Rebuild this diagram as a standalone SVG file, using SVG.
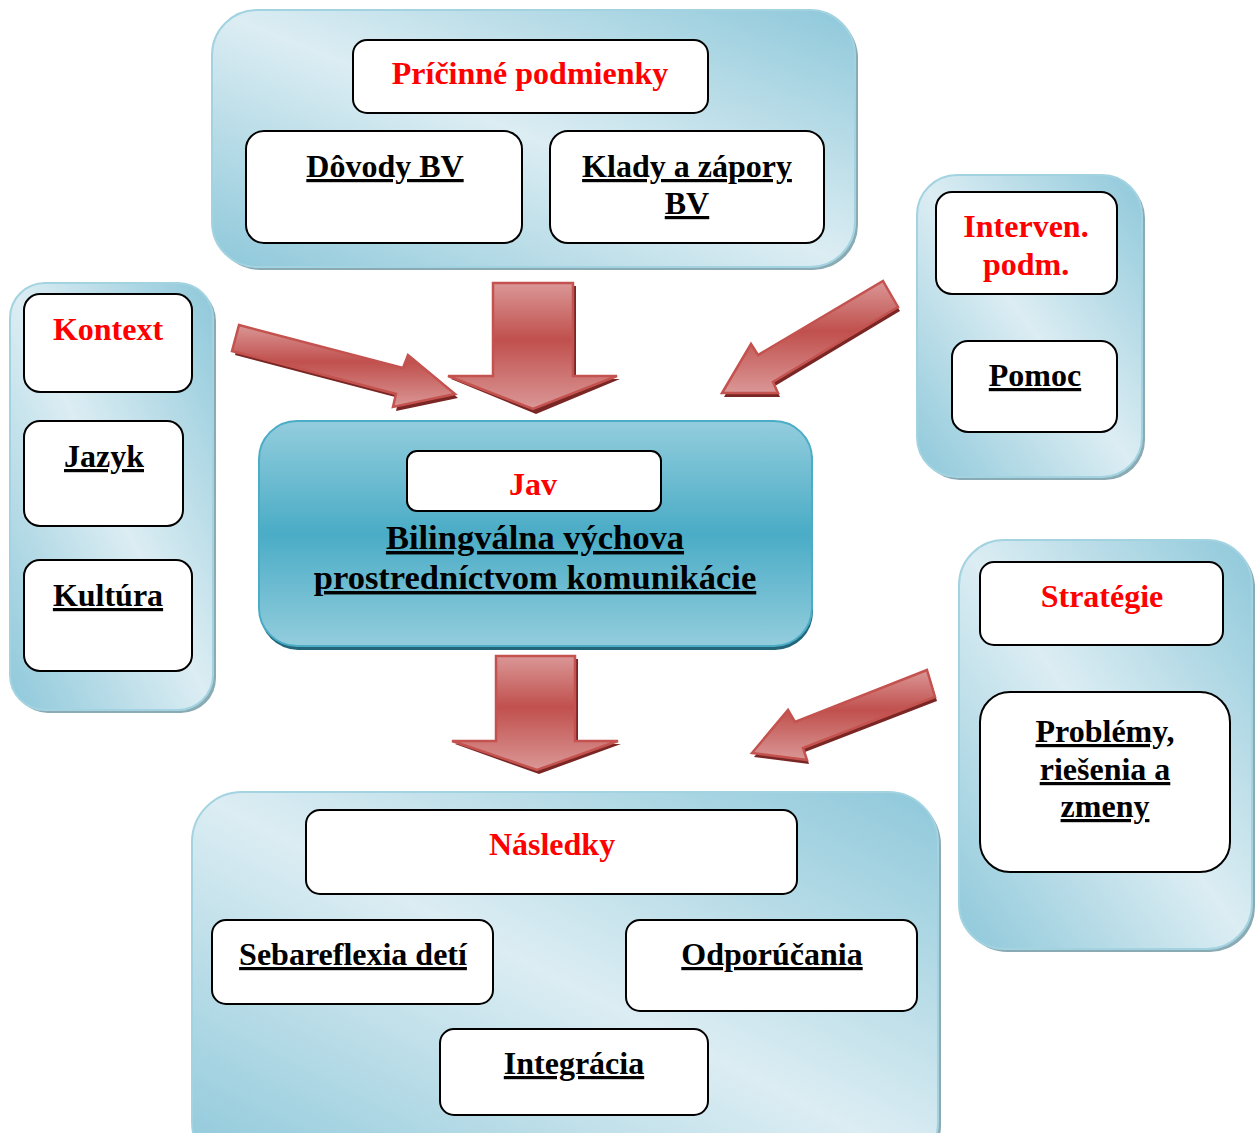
<svg xmlns="http://www.w3.org/2000/svg" width="1259" height="1133" viewBox="0 0 1259 1133">
<defs>
<linearGradient id="gPanel" x1="0" y1="1" x2="1" y2="0">
<stop offset="0" stop-color="#8ec8da"/>
<stop offset="0.5" stop-color="#dcedf3"/>
<stop offset="1" stop-color="#8ec8da"/>
</linearGradient>
<linearGradient id="gCenter" x1="0" y1="0" x2="0" y2="1">
<stop offset="0" stop-color="#93cddd"/>
<stop offset="0.5" stop-color="#4aacc6"/>
<stop offset="1" stop-color="#93cddd"/>
</linearGradient>
<linearGradient id="gArrow" x1="0" y1="0" x2="0" y2="1">
<stop offset="0" stop-color="#da9796"/>
<stop offset="0.45" stop-color="#c0504d"/>
<stop offset="1" stop-color="#da9796"/>
</linearGradient>
<style>
.panel{fill:url(#gPanel);stroke:#a3d3e0;stroke-width:2}
.pshadow{fill:#8aaab4}
.box{fill:#fff;stroke:#000;stroke-width:2}
.arrow{fill:url(#gArrow);stroke:#c4524f;stroke-width:2.5;stroke-linejoin:miter}
.ashadow{fill:#7a2624}
text{font-family:"Liberation Serif","Times New Roman",serif;font-weight:bold;font-size:32px;text-anchor:middle}
.red{fill:#ff0000}
.u{fill:#000;text-decoration:underline;text-decoration-thickness:3px}
.big{font-size:34.5px}
</style>
</defs>

<!-- Panels -->
<g id="panel-pricinne">
<rect class="pshadow" x="215" y="13" width="643" height="257" rx="45"/>
<rect class="panel" x="212" y="10" width="643" height="257" rx="45"/>
</g>
<g id="panel-kontext">
<rect class="pshadow" x="13" y="286" width="203" height="427" rx="35"/>
<rect class="panel" x="10" y="283" width="203" height="427" rx="35"/>
</g>
<g id="panel-interven">
<rect class="pshadow" x="920" y="178" width="225" height="302" rx="40"/>
<rect class="panel" x="917" y="175" width="225" height="302" rx="40"/>
</g>
<g id="panel-strategie">
<rect class="pshadow" x="962" y="543" width="293" height="409" rx="45"/>
<rect class="panel" x="959" y="540" width="293" height="409" rx="45"/>
</g>
<g id="panel-nasledky">
<rect class="pshadow" x="195" y="795" width="746" height="380" rx="50"/>
<rect class="panel" x="192" y="792" width="746" height="380" rx="50"/>
</g>
<g id="panel-jav">
<rect x="260" y="425" width="553" height="225" rx="38" fill="#23667a"/>
<rect x="259" y="421" width="553" height="225" rx="38" fill="url(#gCenter)" stroke="#4aacc6" stroke-width="2"/>
</g>

<!-- Connectors (block arrows) -->
<g id="connectors">
<g id="arrow-top">
<polygon class="ashadow" points="496,286 576,286 576,379 620,379 536,414 451,379 496,379"/>
<polygon class="arrow" points="493,283 573,283 573,376 617,376 533,409 448,376 493,376"/>
</g>
<g id="arrow-left">
<polygon class="ashadow" points="242,329 406,372 413,358 458,398 396,411 399,398 235,355"/>
<polygon class="arrow" points="239,325 403,368 408,355 455,394 393,407 396,394 232,351"/>
</g>
<g id="arrow-right-top">
<polygon class="ashadow" points="885,285 900,311 775,386 780,397 724,397 753,348 760,359"/>
<polygon class="arrow" points="883,281 898,307 773,382 778,393 722,393 751,344 758,355"/>
</g>
<g id="arrow-bottom">
<polygon class="ashadow" points="499,659 578,659 578,744 621,744 539,774 455,744 499,744"/>
<polygon class="arrow" points="496,656 575,656 575,741 618,741 537,770 452,741 496,741"/>
</g>
<g id="arrow-right-bottom">
<polygon class="ashadow" points="929,674 937,701 805,752 809,764 754,757 790,714 797,726"/>
<polygon class="arrow" points="927,670 935,697 803,748 807,760 752,753 788,710 795,722"/>
</g>
</g>

<!-- Nodes -->
<g id="node-pricinne">
<rect class="box" x="353" y="40" width="355" height="73" rx="14"/>
<text class="red" x="530" y="84">Príčinné podmienky</text>
</g>
<g id="node-dovody">
<rect class="box" x="246" y="131" width="276" height="112" rx="18"/>
<text class="u" x="385" y="177">Dôvody BV</text>
</g>
<g id="node-klady">
<rect class="box" x="550" y="131" width="274" height="112" rx="18"/>
<text class="u" x="687" y="177">Klady a zápory</text>
<text class="u" x="687" y="214">BV</text>
</g>
<g id="node-kontext">
<rect class="box" x="24" y="294" width="168" height="98" rx="16"/>
<text class="red" x="108" y="340">Kontext</text>
</g>
<g id="node-jazyk">
<rect class="box" x="24" y="421" width="159" height="105" rx="16"/>
<text class="u" x="104" y="467">Jazyk</text>
</g>
<g id="node-kultura">
<rect class="box" x="24" y="560" width="168" height="111" rx="16"/>
<text class="u" x="108" y="606">Kultúra</text>
</g>
<g id="node-jav">
<rect class="box" x="407" y="451" width="254" height="60" rx="10"/>
<text class="red" x="533" y="495">Jav</text>
<text class="u big" x="535" y="549">Bilingválna výchova</text>
<text class="u big" x="535" y="589">prostredníctvom komunikácie</text>
</g>
<g id="node-interven">
<rect class="box" x="936" y="192" width="181" height="102" rx="16"/>
<text class="red" x="1026" y="237">Interven.</text>
<text class="red" x="1026" y="275">podm.</text>
</g>
<g id="node-pomoc">
<rect class="box" x="952" y="341" width="165" height="91" rx="16"/>
<text class="u" x="1035" y="386">Pomoc</text>
</g>
<g id="node-strategie">
<rect class="box" x="980" y="562" width="243" height="83" rx="14"/>
<text class="red" x="1102" y="607">Stratégie</text>
</g>
<g id="node-problemy">
<rect class="box" x="980" y="692" width="250" height="180" rx="30"/>
<text class="u" x="1105" y="742">Problémy,</text>
<text class="u" x="1105" y="780">riešenia a</text>
<text class="u" x="1105" y="817">zmeny</text>
</g>
<g id="node-nasledky">
<rect class="box" x="306" y="810" width="491" height="84" rx="14"/>
<text class="red" x="552" y="855">Následky</text>
</g>
<g id="node-sebareflexia">
<rect class="box" x="212" y="920" width="281" height="84" rx="14"/>
<text class="u" x="353" y="965">Sebareflexia detí</text>
</g>
<g id="node-odporucania">
<rect class="box" x="626" y="920" width="291" height="91" rx="14"/>
<text class="u" x="772" y="965">Odporúčania</text>
</g>
<g id="node-integracia">
<rect class="box" x="440" y="1029" width="268" height="86" rx="14"/>
<text class="u" x="574" y="1074">Integrácia</text>
</g>
</svg>
